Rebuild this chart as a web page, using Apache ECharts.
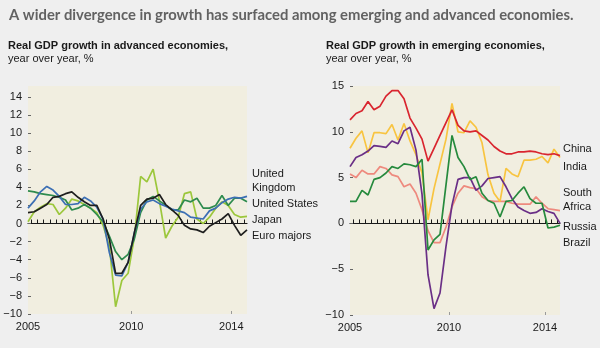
<!DOCTYPE html>
<html><head><meta charset="utf-8">
<script src="https://cdn.jsdelivr.net/npm/echarts@6/dist/echarts.min.js"></script>
<style>html,body{margin:0;padding:0;background:#efefef;}#c{width:600px;height:348px;}</style>
</head><body><div id="c"></div>
<script>
// ---- data (quarterly, year-over-year %) ----
const quarters = ['2005Q4',
  '2006Q1','2006Q2','2006Q3','2006Q4','2007Q1','2007Q2','2007Q3','2007Q4',
  '2008Q1','2008Q2','2008Q3','2008Q4','2009Q1','2009Q2','2009Q3','2009Q4',
  '2010Q1','2010Q2','2010Q3','2010Q4','2011Q1','2011Q2','2011Q3','2011Q4',
  '2012Q1','2012Q2','2012Q3','2012Q4','2013Q1','2013Q2','2013Q3','2013Q4',
  '2014Q1','2014Q2','2014Q3'];

// advanced economies
const unitedKingdom = [1.7,2.5,3.5,4.1,3.7,3.0,2.1,2.1,2.2,2.9,2.5,1.8,0.5,-3.2,-5.7,-5.8,-4.3,-1.0,1.6,2.4,2.6,2.2,1.9,1.6,1.4,1.2,0.7,0.6,0.5,1.4,1.7,2.3,2.7,2.9,2.8,3.0];
const unitedStates  = [3.6,3.5,3.3,3.2,3.1,2.9,2.6,1.5,1.7,2.1,1.7,1.0,0.2,-1.4,-3.1,-4.0,-3.4,-1.7,1.2,2.6,3.0,2.5,2.0,1.5,1.5,2.6,2.4,2.8,1.7,1.7,2.0,3.1,2.0,2.8,2.8,2.4];
const japan         = [0.2,1.3,1.8,2.2,2.1,1.0,1.7,2.7,2.5,2.1,1.7,1.2,-0.2,-2.5,-9.2,-6.3,-5.5,-1.5,5.2,4.6,6.0,2.5,-1.6,-0.3,0.7,3.3,3.5,0.5,0.0,0.7,1.7,2.4,2.0,1.0,0.7,0.8];
const euroMajors    = [1.2,1.3,1.7,2.1,2.9,3.0,3.3,3.5,2.9,2.4,2.0,2.0,0.5,-1.7,-5.5,-5.5,-4.3,-1.0,2.0,2.7,2.8,3.2,2.1,1.5,0.9,-0.2,-0.6,-0.7,-1.0,-0.3,0.1,0.5,1.1,-0.2,-1.3,-0.7];

// emerging economies
const china        = [11.3,12.0,12.3,13.3,12.4,12.8,13.9,14.5,14.5,13.6,11.5,10.4,9.2,6.8,8.2,9.6,11.0,12.4,10.7,10.1,10.0,10.1,9.6,9.1,8.4,7.9,7.6,7.6,7.8,7.8,7.9,7.8,7.6,7.5,7.6,7.4];
const india        = [8.2,9.3,10.1,7.7,9.9,9.9,9.8,10.8,9.1,10.9,9.0,7.5,5.5,0.4,3.8,6.5,9.2,13.1,10.0,9.9,11.2,10.5,8.8,5.3,3.3,2.4,6.0,5.4,5.1,6.9,6.9,7.0,7.3,6.6,8.1,7.2];
const southAfrica  = [5.4,5.0,5.8,5.4,5.4,6.2,6.0,5.3,5.1,4.0,4.3,3.3,1.5,-0.8,-2.1,-2.1,-0.4,1.8,3.3,4.1,3.9,3.8,2.9,2.5,2.4,2.4,2.4,2.2,2.1,2.1,2.1,2.9,2.2,1.6,1.5,1.4];
const russia       = [6.2,7.2,7.5,7.9,8.5,8.4,8.3,9.0,8.7,10.1,10.5,8.0,3.2,-5.6,-9.3,-7.6,-2.5,2.0,4.8,5.0,5.0,3.6,4.1,4.9,5.0,5.1,4.0,2.7,1.8,1.4,1.1,1.2,1.6,1.3,1.1,0.0];
const brazil       = [2.4,2.4,3.6,3.1,4.8,5.0,5.5,6.2,6.0,6.5,6.4,6.2,7.0,-2.9,-1.8,-1.2,4.2,9.6,7.2,6.2,4.8,5.1,3.3,2.5,2.2,0.7,2.4,2.5,3.3,4.0,2.7,2.2,2.2,-0.5,-0.4,-0.2];

// tick labels
const xTickLabels = ['2005','2010','2014'];
const xTickYears  = [null, 2010, 2014];   // null = left edge of the axis
const yTicksLeft  = [-10,-8,-6,-4,-2,0,2,4,6,8,10,12,14];
const yTicksRight = [-10,-5,0,5,10,15];

// text
const mainTitle = 'A wider divergence in growth has surfaced among emerging and advanced economies.';
const leftTitle = 'Real GDP growth in advanced economies,';
const rightTitle = 'Real GDP growth in emerging economies,';
const unitText = 'year over year, %';

// ---- build ----
const xs = quarters.map(q => +q.slice(0,4) + (+q.slice(5) - 0.5) / 4);
const xMin = xs[0], xMax = xs[xs.length - 1];
const xLabelValues = xTickYears.map(v => v === null ? xMin : v);
const pair = arr => arr.map((v, i) => [xs[i], v]);
const quarterTicks = [];
for (let y = 2006; y <= 2014; y++) for (let q = 0; q < 4; q++) { const t = y + q / 4; if (t < xMax) quarterTicks.push(t); }

const FONT = 'Liberation Sans, Arial, sans-serif';
const minus = v => (v < 0 ? '\u2212' + Math.abs(v) : String(v));

function xAxes(g) {
  return [
    { gridIndex: g, type: 'value', min: xMin, max: xMax, position: 'bottom',
      axisLine: { show: false, onZero: false }, splitLine: { show: false },
      axisTick: { show: true, inside: true, length: 3, customValues: [2010, 2014], lineStyle: { color: '#9a9a9a' } },
      axisLabel: { customValues: xLabelValues, margin: 7, fontSize: 11, color: '#1a1a1a', fontFamily: FONT,
        formatter: v => { const i = xLabelValues.findIndex(x => Math.abs(x - v) < 1e-6); return i >= 0 ? xTickLabels[i] : ''; } } },
    { gridIndex: g, type: 'value', min: xMin, max: xMax, position: 'bottom',
      axisLine: { show: true, onZero: true, lineStyle: { color: '#1a1a1a', width: 1.2 } },
      axisTick: { show: true, inside: true, length: 4, customValues: quarterTicks, lineStyle: { color: '#1a1a1a', width: 1 } },
      axisLabel: { show: false }, splitLine: { show: false } }
  ];
}
function yAxis(g, min, max, ticks) {
  return { gridIndex: g, type: 'value', min: min, max: max,
    axisLine: { show: false }, splitLine: { show: false },
    axisTick: { show: true, inside: true, length: 3, customValues: ticks, lineStyle: { color: '#666' } },
    axisLabel: { customValues: ticks, margin: 6, fontSize: 11, color: '#1a1a1a', fontFamily: FONT, formatter: minus } };
}
function line(name, data, color, xi, yi) {
  return { name, type: 'line', data: pair(data), xAxisIndex: xi, yAxisIndex: yi, showSymbol: false,
    silent: true, animation: false, lineStyle: { color, width: 1.7 }, itemStyle: { color } };
}
const txt = (text, x, y, extra) => ({ type: 'text', silent: true,
  style: Object.assign({ text, x, y, fill: '#1a1a1a', font: '11px ' + FONT, textVerticalAlign: 'middle' }, extra || {}) });

const option = {
  backgroundColor: '#efefef',
  animation: false,
  grid: [
    { left: 28, width: 219, top: 86, height: 228, show: true, backgroundColor: '#f1eee0', borderWidth: 0 },
    { left: 350, width: 210, top: 86, height: 229, show: true, backgroundColor: '#f1eee0', borderWidth: 0 }
  ],
  xAxis: [...xAxes(0), ...xAxes(1)],
  yAxis: [yAxis(0, -10, 15.2, yTicksLeft), yAxis(1, -10, 15, yTicksRight)],
  series: [
    line('Japan', japan, '#9cc73c', 0, 0),
    line('United States', unitedStates, '#2e8b4e', 0, 0),
    line('United Kingdom', unitedKingdom, '#3c6fb4', 0, 0),
    line('Euro majors', euroMajors, '#1e1e1e', 0, 0),
    line('South Africa', southAfrica, '#ee8a7e', 2, 1),
    line('India', india, '#f8c440', 2, 1),
    line('Russia', russia, '#6a2f86', 2, 1),
    line('Brazil', brazil, '#268a3d', 2, 1),
    line('China', china, '#d9252f', 2, 1)
  ],
  graphic: [
    txt(mainTitle, 9, 15, { font: 'bold 14.8px Lato, sans-serif', fill: '#626262' }),
    txt(leftTitle, 8, 46, { font: 'bold 11px ' + FONT }),
    txt(unitText, 8, 59),
    txt(rightTitle, 326, 46, { font: 'bold 11px ' + FONT }),
    txt(unitText, 326, 59),
    txt('United', 252, 174), txt('Kingdom', 252, 188), txt('United States', 252, 204),
    txt('Japan', 252, 220), txt('Euro majors', 252, 236),
    txt('China', 563, 149), txt('India', 563, 167), txt('South', 563, 193), txt('Africa', 563, 207),
    txt('Russia', 563, 227), txt('Brazil', 563, 243)
  ]
};
const chart = echarts.init(document.getElementById('c'));
chart.setOption(option);
</script></body></html>
